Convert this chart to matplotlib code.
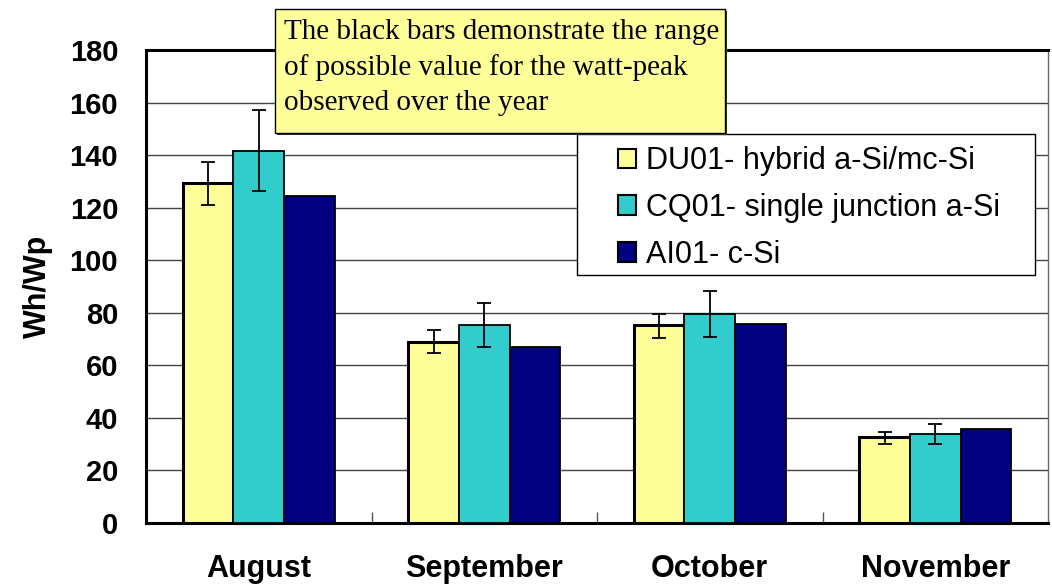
import numpy as np
import matplotlib
matplotlib.use("Agg")
import matplotlib.pyplot as plt
from matplotlib.patches import Rectangle

# data
months = ["August", "September", "October", "November"]
series_names = ["DU01- hybrid a-Si/mc-Si", "CQ01- single junction a-Si", "AI01- c-Si"]
colors = ["#FFFF99", "#33CCCC", "#000080"]

du01 = [129.4, 69.0, 75.3, 32.8]
cq01 = [141.6, 75.2, 79.5, 33.9]
ai01 = [124.4, 67.1, 75.7, 35.8]

# range of watt-peak values (low, high); AI01 has none
du01_lo = [121.0, 64.8, 70.3, 30.1]
du01_hi = [137.4, 73.4, 79.5, 34.6]
cq01_lo = [126.3, 67.1, 70.9, 30.1]
cq01_hi = [157.2, 83.7, 88.3, 37.7]

yticks = [0, 20, 40, 60, 80, 100, 120, 140, 160, 180]
note = ("The black bars demonstrate the range\n"
        "of possible value for the watt-peak\n"
        "observed over the year")

fig = plt.figure(figsize=(10.52, 5.84), dpi=100)
ax = fig.add_axes([146 / 1052, 61 / 584, 902 / 1052, 473 / 584])

x = np.arange(len(months))
w = 0.225
values = [du01, cq01, ai01]
edge_lw = [2.2, 1.3, 1.3]
for i, (vals, c) in enumerate(zip(values, colors)):
    ax.bar(x + (i - 1) * w, vals, w, color=c, edgecolor="black",
           linewidth=edge_lw[i], label=series_names[i], zorder=3)

for i, (v, lo, hi) in enumerate([(du01, du01_lo, du01_hi), (cq01, cq01_lo, cq01_hi)]):
    v = np.array(v)
    yerr = [v - np.array(lo), np.array(hi) - v]
    ax.errorbar(x + (i - 1) * w, v, yerr=yerr, fmt="none", ecolor="black",
                elinewidth=1.3, capsize=5, capthick=1.3, zorder=4)

ax.set_xlim(-0.5, len(months) - 0.5)
ax.set_ylim(0, 180)
ax.set_yticks(yticks)
ax.set_yticklabels([str(t) for t in yticks], fontsize=21, fontweight="bold",
                   family="Liberation Sans")
ax.set_xticks(x)
ax.set_xticklabels(months, fontsize=22, fontweight="bold", family="Liberation Sans")
ax.tick_params(axis="x", length=0, pad=22)
ax.tick_params(axis="y", direction="in", length=0, pad=20)
ax.set_xticks(np.arange(0.5, len(months) - 1, 1), minor=True)
ax.tick_params(axis="x", which="minor", direction="in", length=8, color="#555555", width=1)
ax.set_ylabel("Wh/Wp", fontsize=22, fontweight="bold", family="Liberation Sans", labelpad=12)

ax.yaxis.grid(True, color="#444444", linewidth=1.0, zorder=0)
ax.set_axisbelow(True)
for side in ["left", "bottom", "top"]:
    ax.spines[side].set_linewidth(2.2)
    ax.spines[side].set_color("black")
ax.spines["right"].set_linewidth(1.0)
ax.spines["right"].set_color("#666666")

# legend: frame drawn by hand so the side padding can be wider than the top
ax.add_patch(Rectangle((577 / 1052, 1 - 275 / 584), 458 / 1052, 141 / 584,
                       transform=fig.transFigure, facecolor="white", clip_on=False,
                       edgecolor="black", linewidth=1.0, zorder=5))
leg = ax.legend(loc="upper left", bbox_to_anchor=(612 / 1052, 1 - 140 / 584),
                bbox_transform=fig.transFigure, frameon=False,
                prop={"family": "Liberation Sans", "size": 22},
                handlelength=0.6, handleheight=0.6, handletextpad=0.3,
                labelspacing=0.55, borderpad=0.2, borderaxespad=0)
leg.set_zorder(6)
for h in leg.legend_handles:
    h.set_linewidth(1.5)

# note box over the top of the chart
bx0, by0, bw, bh = 275 / 1052, 1 - 133 / 584, 450 / 1052, 124 / 584
fig.add_artist(Rectangle((bx0 + 0.002, by0 - 0.004), bw, bh, transform=fig.transFigure,
                         facecolor="#333333", edgecolor="none", zorder=5))
fig.add_artist(Rectangle((bx0, by0), bw, bh, transform=fig.transFigure,
                         facecolor="#FFFF99", edgecolor="black", linewidth=1.0, zorder=6))
fig.text(bx0 + 9 / 1052, by0 + bh - 10 / 584, note, ha="left", va="top",
         fontsize=21, family="Liberation Serif", linespacing=1.43, zorder=7)

fig.savefig("out.png", dpi=100)
